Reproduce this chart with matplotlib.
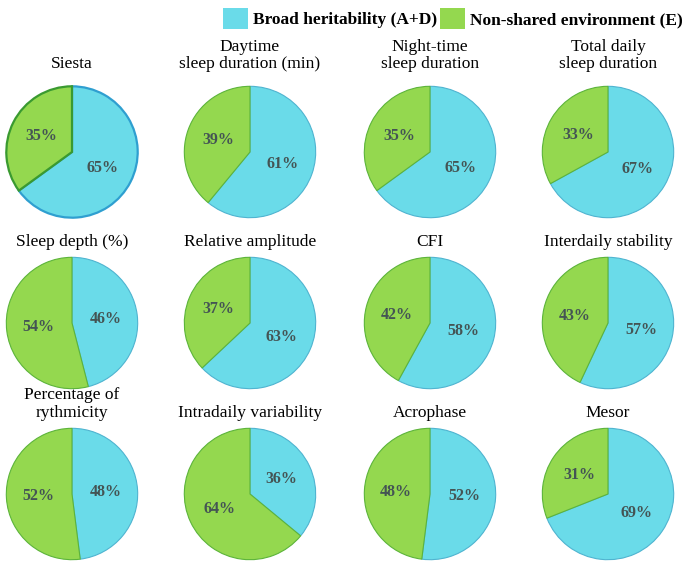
import matplotlib
matplotlib.use("Agg")
import matplotlib.pyplot as plt
from matplotlib.patches import Patch

titles = ["Siesta", "Daytime\nsleep duration (min)", "Night-time\nsleep duration",
          "Total daily\nsleep duration",
          "Sleep depth (%)", "Relative amplitude", "CFI", "Interdaily stability",
          "Percentage of\nrythmicity", "Intradaily variability", "Acrophase", "Mesor"]
heritability = [65, 61, 65, 67, 46, 63, 58, 57, 48, 36, 52, 69]
environment = [35, 39, 35, 33, 54, 37, 42, 43, 52, 64, 48, 31]
legend_labels = ["Broad heritability (A+D)", "Non-shared environment (E)"]

BLUE = "#6adbe9"
GREEN = "#94d84f"
BLUE_EDGE = "#4fb4d0"
GREEN_EDGE = "#5cb43a"
TEXT_PCT = "#445454"

W, H = 685, 563
fig = plt.figure(figsize=(W / 100, H / 100), dpi=100)
serif = ["Liberation Serif", "DejaVu Serif"]

col_cx = [72, 250, 430, 608]
row_cy = [152, 323, 494]
row_pad = [12, 7, 7]
rx, ry = 67, 67

for i, (t, h, e) in enumerate(zip(titles, heritability, environment)):
    row, col = divmod(i, 4)
    cx, cy = col_cx[col], row_cy[row]
    ax = fig.add_axes([(cx - rx) / W, 1 - (cy + ry) / H, 2 * rx / W, 2 * ry / H])
    lw = 1.6 if i == 0 else 0.8
    be = "#2f9fd0" if i == 0 else BLUE_EDGE
    ge = "#3a9a30" if i == 0 else GREEN_EDGE
    wedges, texts, autotexts = ax.pie(
        [h, e], colors=[BLUE, GREEN], startangle=90, counterclock=False,
        autopct=lambda p: f"{p:.0f}%", pctdistance=0.52,
        wedgeprops=dict(linewidth=lw),
        textprops=dict(fontfamily=serif, fontweight="bold", fontsize=11.5, color=TEXT_PCT))
    wedges[0].set_edgecolor(be)
    wedges[1].set_edgecolor(ge)
    ax.set_xlim(-1.02, 1.02)
    ax.set_ylim(-1.02, 1.02)
    ax.set_title(t, fontfamily=serif, fontsize=12.5, pad=row_pad[row], linespacing=1.15)

handles = [Patch(facecolor=BLUE, edgecolor="none"), Patch(facecolor=GREEN, edgecolor="none")]
fig.legend(handles, legend_labels, loc="upper right", bbox_to_anchor=(1.008, 1.0),
           ncol=2, frameon=False, handlelength=1.4, handleheight=1.5,
           handletextpad=0.3, columnspacing=0.2, borderaxespad=0.05,
           prop=dict(family=serif, weight="bold", size=12.5))

fig.savefig("out.png", dpi=100, facecolor="white")
